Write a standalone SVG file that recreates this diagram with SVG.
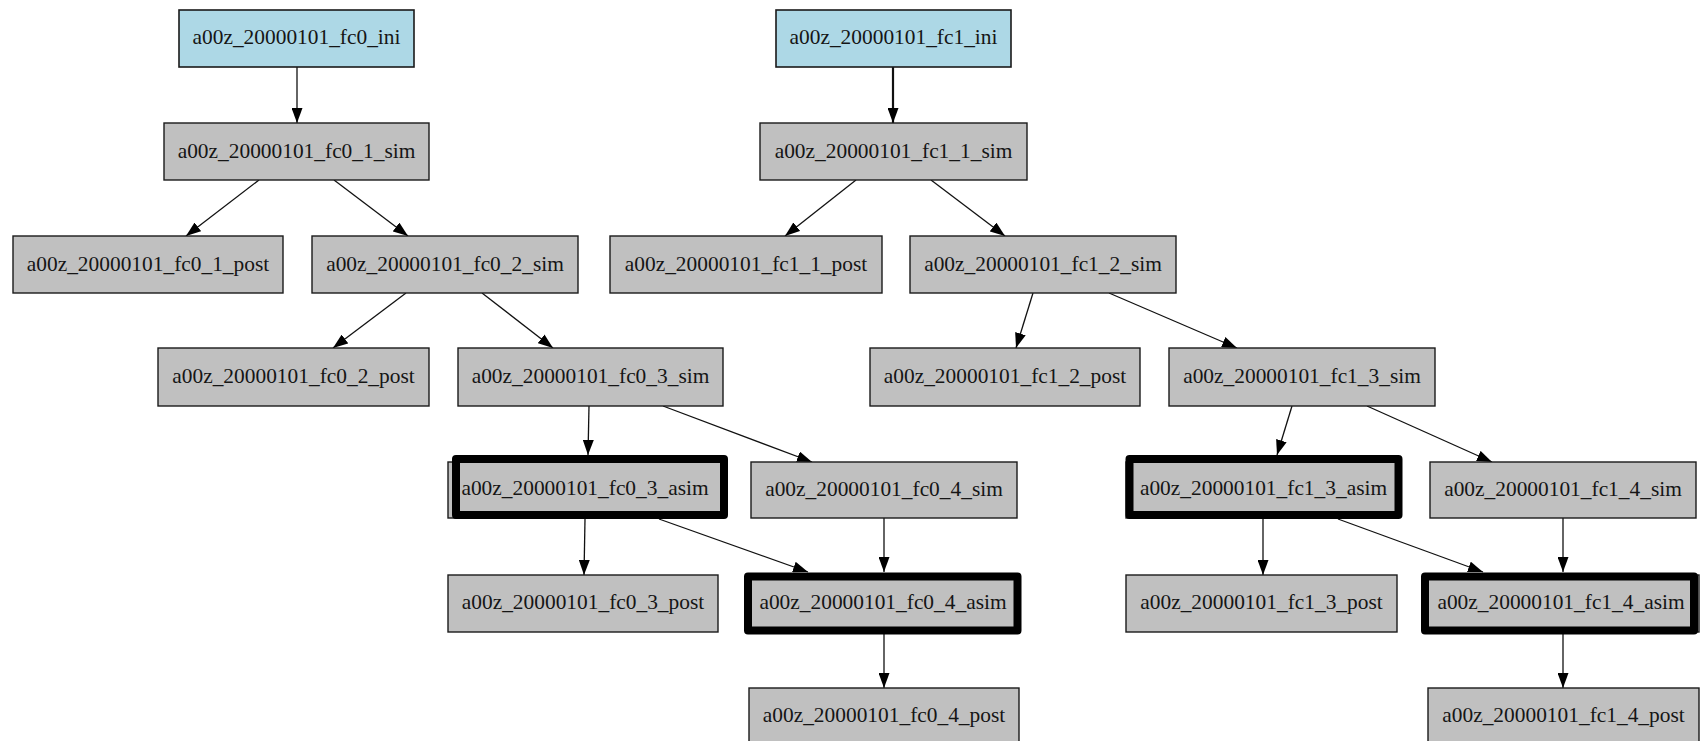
<svg xmlns="http://www.w3.org/2000/svg" width="1703" height="741" viewBox="0 0 1703 741">
  <style>
    .box { fill: #c0c0c0; stroke: #1a1a1a; stroke-width: 1.4; }
    .ini { fill: #add8e6; stroke: #1a1a1a; stroke-width: 1.6; }
    .hot { fill: #c0c0c0; stroke: #000; stroke-width: 8; stroke-linejoin: round; }
    .lbl { font-family: "Liberation Serif", "Times New Roman", serif; font-size: 21.4px; fill: #151515; text-anchor: middle; }
    .edge { fill: none; stroke: #111; stroke-width: 1.3; marker-end: url(#head); }
    .edge.bold { stroke-width: 2.2; }
  </style>
  <defs>
    <marker id="head" viewBox="0 0 15 11" refX="15" refY="5.5" markerWidth="15" markerHeight="11" markerUnits="userSpaceOnUse" orient="auto">
      <path d="M0,0 L15,5.5 L0,11 z" fill="#000"/>
    </marker>
  </defs>
  <rect width="1703" height="741" fill="#fff"/>

  <!-- connectors -->
  <g id="edges">
    <path class="edge" d="M297,67 L297,123"/>
    <path class="edge" d="M259,180 L186,236"/>
    <path class="edge" d="M334,180 L408,236"/>
    <path class="edge" d="M406,293 L333,348"/>
    <path class="edge" d="M482,293 L553,348"/>
    <path class="edge" d="M589,406 L588,455"/>
    <path class="edge" d="M663,406 L812,462"/>
    <path class="edge" d="M585,519 L584,575"/>
    <path class="edge" d="M659,519 L808,572"/>
    <path class="edge" d="M884,518 L884,572"/>
    <path class="edge" d="M884,634 L884,688"/>

    <path class="edge bold" d="M893,67 L893,123"/>
    <path class="edge" d="M856,180 L785,236"/>
    <path class="edge" d="M931,180 L1005,236"/>
    <path class="edge" d="M1033,293 L1016,348"/>
    <path class="edge" d="M1109,293 L1237,348"/>
    <path class="edge" d="M1292,406 L1277,455"/>
    <path class="edge" d="M1367,406 L1492,462"/>
    <path class="edge" d="M1263,519 L1263,575"/>
    <path class="edge" d="M1338,519 L1483,572"/>
    <path class="edge" d="M1563,518 L1563,572"/>
    <path class="edge" d="M1563,634 L1563,688"/>
  </g>

  <!-- member fc0 -->
  <g id="fc0_ini"><rect class="ini" x="179" y="10" width="235" height="57"/><text class="lbl" x="296.5" y="44">a00z_20000101_fc0_ini</text></g>
  <g id="fc0_1_sim"><rect class="box" x="164" y="123" width="265" height="57"/><text class="lbl" x="296.5" y="157.5">a00z_20000101_fc0_1_sim</text></g>
  <g id="fc0_1_post"><rect class="box" x="13" y="236" width="270" height="57"/><text class="lbl" x="148" y="270.5">a00z_20000101_fc0_1_post</text></g>
  <g id="fc0_2_sim"><rect class="box" x="312" y="236" width="266" height="57"/><text class="lbl" x="445" y="270.5">a00z_20000101_fc0_2_sim</text></g>
  <g id="fc0_2_post"><rect class="box" x="158" y="348" width="271" height="58"/><text class="lbl" x="293.5" y="382.5">a00z_20000101_fc0_2_post</text></g>
  <g id="fc0_3_sim"><rect class="box" x="458" y="348" width="265" height="58"/><text class="lbl" x="590.5" y="382.5">a00z_20000101_fc0_3_sim</text></g>
  <g id="fc0_3_asim">
    <rect class="box" x="448" y="462" width="270" height="56"/>
    <rect class="hot" x="456" y="459" width="268" height="56"/>
    <text class="lbl" x="585" y="495">a00z_20000101_fc0_3_asim</text>
  </g>
  <g id="fc0_4_sim"><rect class="box" x="751" y="462" width="266" height="56"/><text class="lbl" x="884" y="495.5">a00z_20000101_fc0_4_sim</text></g>
  <g id="fc0_3_post"><rect class="box" x="448" y="575" width="270" height="57"/><text class="lbl" x="583" y="609">a00z_20000101_fc0_3_post</text></g>
  <g id="fc0_4_asim">
    <rect class="box" x="751" y="575" width="266" height="57"/>
    <rect class="hot" x="748" y="576.5" width="269.5" height="54"/>
    <text class="lbl" x="883" y="609">a00z_20000101_fc0_4_asim</text>
  </g>
  <g id="fc0_4_post"><rect class="box" x="749" y="688" width="270" height="58"/><text class="lbl" x="884" y="722">a00z_20000101_fc0_4_post</text></g>

  <!-- member fc1 -->
  <g id="fc1_ini"><rect class="ini" x="776" y="10" width="235" height="57"/><text class="lbl" x="893.5" y="44">a00z_20000101_fc1_ini</text></g>
  <g id="fc1_1_sim"><rect class="box" x="760" y="123" width="267" height="57"/><text class="lbl" x="893.5" y="157.5">a00z_20000101_fc1_1_sim</text></g>
  <g id="fc1_1_post"><rect class="box" x="610" y="236" width="272" height="57"/><text class="lbl" x="746" y="270.5">a00z_20000101_fc1_1_post</text></g>
  <g id="fc1_2_sim"><rect class="box" x="910" y="236" width="266" height="57"/><text class="lbl" x="1043" y="270.5">a00z_20000101_fc1_2_sim</text></g>
  <g id="fc1_2_post"><rect class="box" x="870" y="348" width="270" height="58"/><text class="lbl" x="1005" y="382.5">a00z_20000101_fc1_2_post</text></g>
  <g id="fc1_3_sim"><rect class="box" x="1169" y="348" width="266" height="58"/><text class="lbl" x="1302" y="382.5">a00z_20000101_fc1_3_sim</text></g>
  <g id="fc1_3_asim">
    <rect class="box" x="1126" y="462" width="271" height="56"/>
    <rect class="hot" x="1129.5" y="459" width="269" height="56"/>
    <text class="lbl" x="1263.5" y="495">a00z_20000101_fc1_3_asim</text>
  </g>
  <g id="fc1_4_sim"><rect class="box" x="1430" y="462" width="266" height="56"/><text class="lbl" x="1563" y="495.5">a00z_20000101_fc1_4_sim</text></g>
  <g id="fc1_3_post"><rect class="box" x="1126" y="575" width="271" height="57"/><text class="lbl" x="1261.5" y="609">a00z_20000101_fc1_3_post</text></g>
  <g id="fc1_4_asim">
    <rect class="box" x="1428" y="575" width="271" height="57"/>
    <rect class="hot" x="1425" y="576.5" width="269" height="54"/>
    <text class="lbl" x="1561" y="609">a00z_20000101_fc1_4_asim</text>
  </g>
  <g id="fc1_4_post"><rect class="box" x="1428" y="688" width="271" height="58"/><text class="lbl" x="1563.5" y="722">a00z_20000101_fc1_4_post</text></g>
</svg>
